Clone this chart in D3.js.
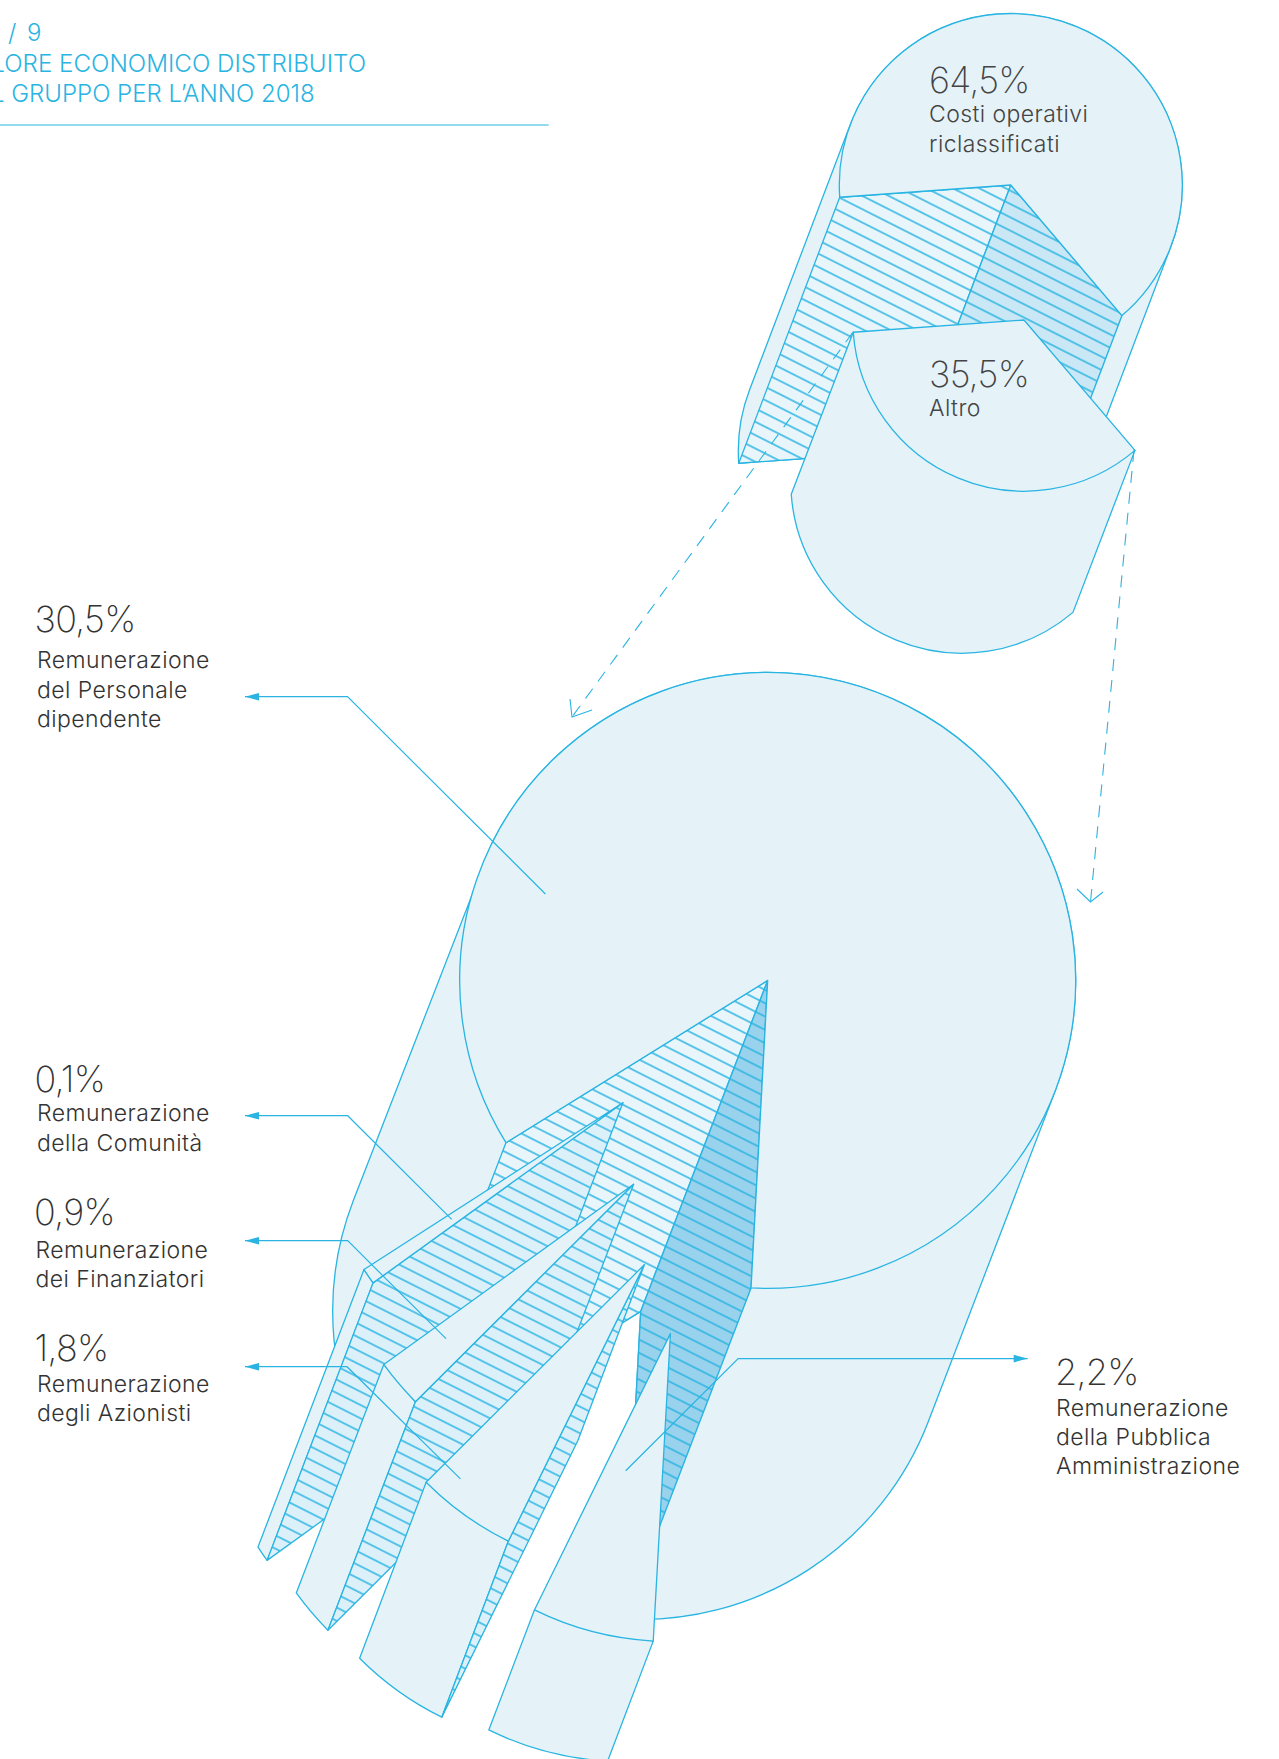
<!DOCTYPE html>
<html><head><meta charset="utf-8">
<style>html,body{margin:0;padding:0;background:#fff;overflow:hidden}svg{display:block}text{font-family:Inter,"Noto Sans",sans-serif}</style>
<script src="https://cdn.jsdelivr.net/npm/d3@7/dist/d3.min.js"></script>
</head><body>
<script>
// ---------- data ----------
const topCategories = ["Costi operativi riclassificati", "Altro"];
const topValues = [64.5, 35.5];
const lowerCategories = ["Remunerazione del Personale dipendente", "Remunerazione della Comunità", "Remunerazione dei Finanziatori", "Remunerazione degli Azionisti", "Remunerazione della Pubblica Amministrazione"];
const lowerValues = [30.5, 0.1, 0.9, 1.8, 2.2];
const titleLines = ["VALORE ECONOMICO DISTRIBUITO", "DEL GRUPPO PER L’ANNO 2018"];
const titleNumber = "/ 9";
const pct = v => d3.format(".1f")(v).replace(".", ",") + "%";

// ---------- layout ----------
const W = 1279, H = 1759;
const BLUE = "#29b4e2", BODY = "#e5f3f9", TXT = "#333";
const rad = d => d * Math.PI / 180;
const svg = d3.select("body").append("svg").attr("width", W).attr("height", H).attr("viewBox", [0, 0, W, H]);
const defs = svg.append("defs");
const HATCH_ANGLE = 26.8, HATCH_STEP = 11.9;
function hatch(id, bg, ref) {
  const s = Math.sin(rad(HATCH_ANGLE)), c = Math.cos(rad(HATCH_ANGLE));
  const phase = -ref[0] * s + ref[1] * c - HATCH_STEP / 2;
  const p = defs.append("pattern").attr("id", id).attr("patternUnits", "userSpaceOnUse")
    .attr("width", 200).attr("height", HATCH_STEP)
    .attr("patternTransform", `rotate(${HATCH_ANGLE}) translate(0 ${phase})`);
  p.append("rect").attr("width", 200).attr("height", HATCH_STEP).attr("fill", bg);
  p.append("line").attr("x1", 0).attr("x2", 200).attr("y1", HATCH_STEP / 2).attr("y2", HATCH_STEP / 2).attr("stroke", BLUE).attr("stroke-width", 1.45);
  return `url(#${id})`;
}
const hUpLight = hatch("hUpLight", "#e8f5fb", [1113.3, 336]);
const hUpDark = hatch("hUpDark", "#c9e7f5", [1113.3, 336]);
const hLoLight = hatch("hLoLight", "#e8f5fb", [760.7, 1081]);
const hLoDark = hatch("hLoDark", "#98d2ec", [760.7, 1081]);
const hS1 = hatch("hS1", "#dcf0fa", [410, 1256.7]);
const hS2 = hatch("hS2", "#dcf0fa", [331.7, 1391.7]);
const hS3 = hatch("hS3", "#dcf0fa", [415, 1403.3]);

// value -> angle scales (degrees clockwise from 12 o'clock)
const cumLower = d3.cumsum(lowerValues.slice(1).reverse());
const angleLower = d3.scaleLinear().domain([0, ...cumLower]).range([183.2, 206.2, 225.1, 234.2, 237.2]);
const angleLowerMain = d3.scaleLinear().domain([cumLower[3], cumLower[3] + lowerValues[0]]).range([238.2, 543.1]);
const angleTop = d3.scaleLinear().domain([0, topValues[1], 100]).range([139.6, 265.9, 499.6]);

const P = (c, r, a) => [c[0] + r * Math.sin(rad(a)), c[1] - r * Math.cos(rad(a))];
const add = (c, e) => [c[0] + e[0], c[1] + e[1]];
const arcTo = (ctx, c, r, a0, a1) => ctx.arc(c[0], c[1], r, rad(a0 - 90), rad(a1 - 90), a1 < a0);
const poly = pts => "M" + pts.map(p => p.join(",")).join("L") + "Z";

function shape(g, d, fill, sw) {
  g.append("path").attr("d", d).attr("fill", fill).attr("stroke", BLUE).attr("stroke-width", sw || 1.3).attr("stroke-linejoin", "round");
}
// the kept part of a pie, swept along extrusion e
function bigSlice(g, c, r, a0, a1, e, fill0, fill1, tTop) {
  const b = add(c, e);
  const tL = 291, tR = 471; // tangents of the sweep direction
  const ctx = d3.path();
  ctx.moveTo(...P(b, r, a0));
  arcTo(ctx, b, r, a0, tL);
  ctx.lineTo(...P(c, r, tTop));
  arcTo(ctx, c, r, tTop, tR);
  ctx.lineTo(...P(b, r, tR));
  arcTo(ctx, b, r, tR, a1);
  ctx.lineTo(...b);
  ctx.closePath();
  shape(g, ctx.toString(), BODY);
  shape(g, poly([c, P(c, r, a0), P(b, r, a0), b]), fill0);
  shape(g, poly([c, P(c, r, a1), P(b, r, a1), b]), fill1, 1.4);
  const top = d3.path();
  top.moveTo(...c); top.lineTo(...P(c, r, a0)); arcTo(top, c, r, a0, a1); top.closePath();
  shape(g, top.toString(), BODY);
}
// detached slice: [a0,a1] = bottom edge to left edge, swept along e
function smallSlice(g, c, r, a0, a1, e, faceFill) {
  const b = add(c, e);
  const ctx = d3.path();
  ctx.moveTo(...P(c, r, a1));
  ctx.lineTo(...P(b, r, a1));
  arcTo(ctx, b, r, a1, a0);
  ctx.lineTo(...P(c, r, a0));
  ctx.closePath();
  shape(g, ctx.toString(), BODY);
  if (faceFill) shape(g, poly([c, P(c, r, a0), P(b, r, a0), b]), faceFill);
  const top = d3.path();
  top.moveTo(...c); top.lineTo(...P(c, r, a0)); arcTo(top, c, r, a0, a1); top.closePath();
  shape(g, top.toString(), BODY);
}

// ---------- upper pie ----------
const upper = svg.append("g");
bigSlice(upper, [1010.8, 185], 171.5, angleTop(topValues[1]), angleTop(100), [-101, 266], hUpLight, hUpDark, 291);
smallSlice(upper, [1024, 320], 171.2, angleTop(0), angleTop(topValues[1]), [-62, 162], null);

// ---------- lower pie ----------
const lower = svg.append("g");
bigSlice(lower, [767.7, 980.4], 308, angleLowerMain(cumLower[3]), angleLowerMain(cumLower[3] + lowerValues[0]), [-127, 331], hLoLight, hLoDark, 296.9);
const slices = [
  { face: hS1, c: [622.9, 1102.7], e: [-106, 277.5], from: cumLower[2], to: cumLower[3] },
  { face: hS2, c: [633.6, 1184.3], e: [-87.5, 228.5], from: cumLower[1], to: cumLower[2] },
  { face: hS3, c: [644.3, 1264.8], e: [-66.5, 176], from: cumLower[0], to: cumLower[1] },
  { face: null, c: [670.4, 1333.6], e: [-45.6, 120], from: 0, to: cumLower[0] }
];
slices.forEach(s => smallSlice(lower, s.c, 308, angleLower(s.from), angleLower(s.to), s.e, s.face));

// ---------- dashed connectors ----------
const dashes = [
  { d: [[852.7, 332.6], [572, 717]], arms: [[570, 699], [592, 710]] },
  { d: [[1134, 450], [1090.5, 902]], arms: [[1077, 889], [1103, 892]] }
];
dashes.forEach(a => {
  svg.append("path").attr("d", d3.line()(a.d)).attr("fill", "none").attr("stroke", BLUE).attr("stroke-width", 1.1).attr("stroke-dasharray", "12 9");
  svg.append("path").attr("d", d3.line()([a.arms[0], a.d[1], a.arms[1]])).attr("fill", "none").attr("stroke", BLUE).attr("stroke-width", 1.1);
});

// ---------- leaders ----------
const leaders = [
  [[245, 696.7], [347.5, 696.7], [545.4, 894]],
  [[245, 1115.7], [347.7, 1115.7], [451.7, 1219.3]],
  [[245, 1240.7], [347.7, 1240.7], [446, 1338.7]],
  [[245, 1366.7], [347, 1366.7], [460.4, 1478.9]],
  [[1027.7, 1358.6], [738.2, 1358.6], [625.7, 1470.7]]
];
leaders.forEach(l => {
  const dir = l[0][0] < l[1][0] ? 1 : -1;
  svg.append("path").attr("d", d3.line()(l)).attr("fill", "none").attr("stroke", BLUE).attr("stroke-width", 1.2);
  svg.append("path").attr("fill", BLUE).attr("stroke", "none")
    .attr("d", poly([l[0], [l[0][0] + dir * 14, l[0][1] - 3.8], [l[0][0] + dir * 14, l[0][1] + 3.8]]));
});

// ---------- text ----------
const text = (x, y, s, size, weight, fill, anchor, ls) => svg.append("text").attr("x", x).attr("y", y).text(s)
  .attr("font-size", size).attr("font-weight", weight).attr("fill", fill || TXT).attr("text-anchor", anchor || "start")
  .attr("letter-spacing", ls || 0);
text(41.5, 40.7, titleNumber, 24, 300, BLUE, "end").attr("word-spacing", 4);
text(366, 71.7, titleLines[0], 24.2, 300, BLUE, "end");
text(314.6, 101.7, titleLines[1], 24, 300, BLUE, "end");
svg.append("line").attr("x1", 0).attr("x2", 548.6).attr("y1", 125).attr("y2", 125).attr("stroke", BLUE).attr("stroke-width", 1.2);

const labels = [
  { v: lowerValues[0], x: 37, y: 631.7, dx: -2.5, lines: ["Remunerazione", "del Personale", "dipendente"], ly: [668, 697.7, 726.7] },
  { v: lowerValues[1], x: 37, y: 1092, dx: -2.5, lines: ["Remunerazione", "della Comunità"], ly: [1121, 1151] },
  { v: lowerValues[2], x: 35.5, y: 1225, dx: -1.5, lines: ["Remunerazione", "dei Finanziatori"], ly: [1258, 1287] },
  { v: lowerValues[3], x: 37, y: 1361, dx: -2.5, lines: ["Remunerazione", "degli Azionisti"], ly: [1391.5, 1420.5] },
  { v: lowerValues[4], x: 1056, y: 1384.5, dx: -1, lines: ["Remunerazione", "della Pubblica", "Amministrazione"], ly: [1416, 1445, 1474] },
  { v: topValues[0], x: 929, y: 93, dx: 0, lines: ["Costi operativi", "riclassificati"], ly: [122, 151.5], fill: "#444" },
  { v: topValues[1], x: 929, y: 387, dx: 0, lines: ["Altro"], ly: [416], fill: "#444" }
];
labels.forEach(l => {
  text(l.x + l.dx, l.y, pct(l.v), 36, 250, l.fill, "start", -0.7);
  l.lines.forEach((s, i) => text(l.x, l.ly[i], s, 23, 350, l.fill, "start", 0.42));
});
</script>
</body></html>
